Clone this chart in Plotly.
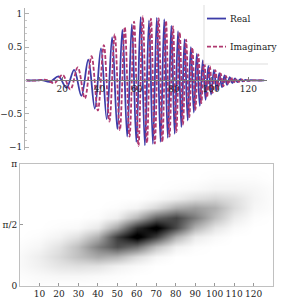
import plotly.graph_objects as go

# ---------------- data ----------------
# Real part: successive extrema (time, value)
real_t = [0.5, 4.5, 9.0, 13.5, 18.0, 22.3, 26.4, 30.3, 34.0, 37.5,
          40.8, 43.9, 46.8, 49.6, 52.3, 54.9, 57.4, 59.8, 62.1, 64.4,
          66.6, 68.7, 70.8, 72.8, 74.8, 76.7, 78.6, 80.4, 82.2, 84.0,
          85.7, 87.4, 89.1, 90.7, 92.3, 93.9, 95.5, 97.0, 98.5, 100.0,
          101.5, 103.0, 104.4, 105.8, 107.2, 108.6, 110.0, 111.4, 112.8, 114.2,
          115.6, 117.0, 118.4, 119.8, 121.2, 124.0, 128.5]
real_v = [0.0, 0.0, 0.005, -0.02, 0.06, -0.11, 0.16, -0.23, 0.31, -0.42,
          0.48, -0.58, 0.65, -0.73, 0.76, -0.84, 0.84, -0.92, 0.95, -0.97,
          0.90, -0.95, 0.94, -0.92, 0.92, -0.86, 0.82, -0.80, 0.74, -0.70,
          0.62, -0.60, 0.50, -0.48, 0.40, -0.38, 0.30, -0.29, 0.22, -0.21,
          0.16, -0.15, 0.11, -0.10, 0.075, -0.065, 0.05, -0.04, 0.03, -0.025,
          0.018, -0.012, 0.008, -0.005, 0.003, 0.0, 0.0]

# Imaginary part: successive extrema (time, value)
imag_t = [0.5, 6.0, 11.25, 15.75, 20.15, 24.35, 28.35, 32.15, 35.75, 39.15,
          42.35, 45.35, 48.2, 50.95, 53.6, 56.15, 58.6, 60.95, 63.25, 65.5,
          67.65, 69.75, 71.8, 73.8, 75.75, 77.65, 79.5, 81.3, 83.1, 84.85,
          86.55, 88.25, 89.9, 91.5, 93.1, 94.7, 96.25, 97.75, 99.25, 100.75,
          102.25, 103.7, 105.1, 106.5, 107.9, 109.3, 110.7, 112.1, 113.5, 114.9,
          116.3, 117.7, 119.1, 120.5, 122.5, 128.5]
imag_v = [0.0, 0.0, 0.01, -0.04, 0.085, -0.135, 0.195, -0.27, 0.365, -0.45,
          0.53, -0.615, 0.69, -0.745, 0.80, -0.84, 0.88, -0.98, 0.96, -0.935,
          0.925, -0.945, 0.93, -0.92, 0.89, -0.84, 0.81, -0.77, 0.72, -0.66,
          0.61, -0.55, 0.49, -0.44, 0.39, -0.34, 0.295, -0.255, 0.215, -0.185,
          0.155, -0.13, 0.105, -0.087, 0.07, -0.057, 0.045, -0.035, 0.027, -0.021,
          0.015, -0.01, 0.006, -0.004, 0.0, 0.0]

# Time-frequency map (darkness), rows = frequency, columns = time
tf_time = [0, 10, 20, 30, 40, 50, 60, 70, 80, 90, 100, 110, 120, 130]
tf_freq = [0.0, 0.25, 0.5, 0.75, 1.0, 1.25, 1.5, 1.75, 2.0, 2.25, 2.5, 2.75, 3.0, 3.1416]
tf_power = [
    [0.00, 0.01, 0.00, 0.00, 0.00, 0.00, 0.00, 0.00, 0.00, 0.00, 0.00, 0.00, 0.00, 0.00],
    [0.01, 0.02, 0.03, 0.03, 0.02, 0.01, 0.00, 0.00, 0.00, 0.00, 0.00, 0.00, 0.00, 0.00],
    [0.02, 0.05, 0.09, 0.11, 0.10, 0.05, 0.02, 0.00, 0.00, 0.00, 0.00, 0.00, 0.00, 0.00],
    [0.02, 0.06, 0.13, 0.22, 0.30, 0.26, 0.12, 0.03, 0.00, 0.00, 0.00, 0.00, 0.00, 0.00],
    [0.01, 0.03, 0.10, 0.23, 0.45, 0.62, 0.50, 0.22, 0.05, 0.01, 0.00, 0.00, 0.00, 0.00],
    [0.00, 0.01, 0.04, 0.11, 0.28, 0.68, 0.96, 0.68, 0.28, 0.07, 0.02, 0.00, 0.00, 0.00],
    [0.00, 0.00, 0.01, 0.02, 0.08, 0.32, 0.74, 0.95, 0.64, 0.27, 0.09, 0.02, 0.00, 0.00],
    [0.00, 0.00, 0.00, 0.00, 0.01, 0.06, 0.26, 0.55, 0.66, 0.46, 0.23, 0.07, 0.01, 0.00],
    [0.00, 0.00, 0.00, 0.00, 0.00, 0.01, 0.04, 0.14, 0.29, 0.34, 0.28, 0.13, 0.03, 0.01],
    [0.00, 0.00, 0.00, 0.00, 0.00, 0.00, 0.00, 0.02, 0.06, 0.12, 0.15, 0.11, 0.04, 0.01],
    [0.00, 0.00, 0.00, 0.00, 0.00, 0.00, 0.00, 0.00, 0.01, 0.02, 0.04, 0.04, 0.03, 0.01],
    [0.00, 0.00, 0.00, 0.00, 0.00, 0.00, 0.00, 0.00, 0.00, 0.00, 0.01, 0.01, 0.01, 0.00],
    [0.00, 0.00, 0.00, 0.00, 0.00, 0.00, 0.00, 0.00, 0.00, 0.00, 0.00, 0.00, 0.00, 0.00],
    [0.00, 0.00, 0.00, 0.00, 0.00, 0.00, 0.00, 0.00, 0.00, 0.00, 0.00, 0.00, 0.00, 0.00],
]

top_ticks = [-1, -0.5, 0.5, 1]
top_ticktext = ["\u22121", "\u22120.5", "0.5", "1"]
x_ticks_top = [20, 40, 60, 80, 100, 120]
x_ticks_bot = [10, 20, 30, 40, 50, 60, 70, 80, 90, 100, 110, 120]
freq_ticks = [0, 1.5708, 3.1416]
freq_ticktext = ["0", "\u03c0/2", "\u03c0"]

# ---------------- layout helpers ----------------
W, H = 283, 306
def px(x):
    return x / W
def py(y):
    return 1 - y / H

BLUE = "#3c3ca8"
PURPLE = "#b0386f"
FONT = "DejaVu Serif"
FS = 9

top_yrange = [-1.043, 1.087]
top_ydom = [py(150), py(3)]
zero_pos = top_ydom[0] + (0 - top_yrange[0]) / (top_yrange[1] - top_yrange[0]) * (top_ydom[1] - top_ydom[0])

fig = go.Figure()
fig.add_trace(go.Scatter(x=real_t, y=real_v, mode="lines", name="Real",
                         line=dict(color=BLUE, width=1.8, shape="spline", smoothing=1.0),
                         xaxis="x", yaxis="y", showlegend=False))
fig.add_trace(go.Scatter(x=imag_t, y=imag_v, mode="lines", name="Imaginary",
                         line=dict(color=PURPLE, width=1.8, dash="4px,2px", shape="spline", smoothing=1.0),
                         xaxis="x", yaxis="y", showlegend=False))
fig.add_trace(go.Heatmap(x=tf_time, y=tf_freq, z=tf_power, xaxis="x2", yaxis="y2",
                         colorscale=[[0, "white"], [1, "black"]], zmin=0, zmax=0.9,
                         zsmooth="best", showscale=False))

fig.update_layout(
    width=W, height=H,
    margin=dict(l=0, r=0, t=0, b=0),
    paper_bgcolor="white", plot_bgcolor="white",
    font=dict(family=FONT, size=FS, color="#222"),
    showlegend=False,
    xaxis=dict(domain=[px(25), px(267)], range=[0, 130], anchor="free", position=zero_pos,
               showline=True, linecolor="#777", linewidth=1, showgrid=False, zeroline=False,
               tickvals=x_ticks_top, ticks="inside", ticklen=3, tickcolor="#777", tickangle=0,
               tickfont=dict(family=FONT, size=FS)),
    yaxis=dict(domain=top_ydom, range=top_yrange, anchor="x",
               showline=True, linecolor="#b0b0b0", linewidth=1, showgrid=False, zeroline=False,
               tickvals=top_ticks, ticktext=top_ticktext, ticks="inside", ticklen=4,
               tickcolor="#b0b0b0",
               minor=dict(dtick=0.1, ticks="inside", ticklen=2, tickcolor="#c8c8c8"),
               tickfont=dict(family=FONT, size=FS)),
    xaxis2=dict(domain=[px(20), px(273)], range=[0, 130], anchor="y2",
                showline=True, mirror=True, linecolor="#c0c0c0", linewidth=1,
                showgrid=False, zeroline=False, tickangle=0,
                tickvals=x_ticks_bot, ticks="inside", ticklen=3, tickcolor="#999",
                tickfont=dict(family=FONT, size=FS)),
    yaxis2=dict(domain=[py(290), py(164)], range=[0, 3.1416], anchor="x2",
                showline=True, mirror=True, linecolor="#c0c0c0", linewidth=1,
                showgrid=False, zeroline=False,
                tickvals=freq_ticks, ticktext=freq_ticktext, ticks="inside", ticklen=3,
                tickcolor="#999", tickfont=dict(family=FONT, size=FS)),
)

# legend drawn in the upper-right corner, as in the reference
fig.add_shape(type="rect", xref="paper", yref="paper", x0=px(204), x1=px(270), y0=py(61), y1=py(0),
              fillcolor="white", line=dict(width=0), layer="above")
fig.add_shape(type="line", xref="paper", yref="paper", x0=px(204), x1=px(204), y0=py(61), y1=py(0),
              line=dict(color="#dddddd", width=1), layer="above")
fig.add_shape(type="line", xref="paper", yref="paper", x0=px(204), x1=px(268), y0=py(61), y1=py(61),
              line=dict(color="#dddddd", width=1), layer="above")
fig.add_shape(type="line", xref="paper", yref="paper", x0=px(207), x1=px(226), y0=py(14), y1=py(14),
              line=dict(color=BLUE, width=1.8), layer="above")
fig.add_shape(type="line", xref="paper", yref="paper", x0=px(207), x1=px(226), y0=py(43), y1=py(43),
              line=dict(color=PURPLE, width=1.8, dash="4px,2px"), layer="above")
fig.add_annotation(text="Real", xref="paper", yref="paper", x=px(228), y=py(14),
                   xanchor="left", yanchor="middle", showarrow=False,
                   font=dict(family=FONT, size=FS, color="#222"))
fig.add_annotation(text="Imaginary", xref="paper", yref="paper", x=px(228), y=py(43),
                   xanchor="left", yanchor="middle", showarrow=False,
                   font=dict(family=FONT, size=FS, color="#222"))

fig.write_html("out.html", config={"displayModeBar": False},
               post_script="document.body.style.margin='0';")
